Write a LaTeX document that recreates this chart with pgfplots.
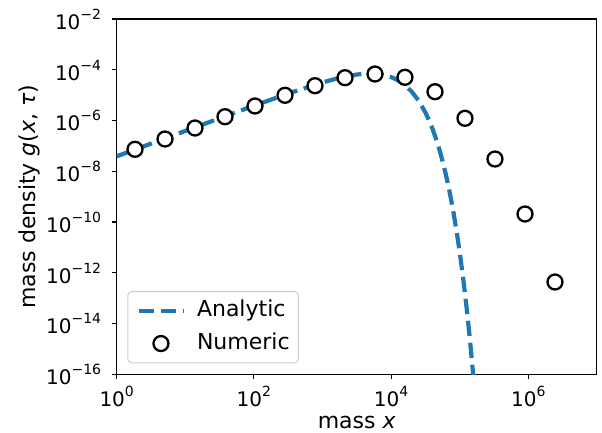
\documentclass[border=0pt]{standalone}
\usepackage{fontspec}
\setmainfont{DejaVu Sans}
\usepackage{pgfplots}
\pgfplotsset{compat=1.18}
\definecolor{mplblue}{HTML}{1F77B4}
\newcommand\fs{\fontsize{20}{24}\selectfont}
\newcommand\fl{\fontsize{22}{26}\selectfont}
\newcommand\pw[1]{10\raisebox{10pt}{\fontsize{14}{14}\selectfont #1}}
\pgfplotsset{
  lineleg/.style={legend image code/.code={\path (0pt,0pt) (47.7pt,0pt); \draw[##1] (3pt,0pt) -- (47.7pt,0pt);}},
  markleg/.style={legend image code/.code={\path (0pt,0pt) (47.7pt,0pt); \draw[##1] plot coordinates {(25.35pt,0pt)};}},
}
\begin{document}
\begin{tikzpicture}
\begin{loglogaxis}[
  scale only axis,
  width=480.2pt, height=355.3pt,
  xmin=1, xmax=1e7, ymin=1e-16, ymax=1e-2,
  axis line style={line width=1.1pt, black},
  tick align=outside,
  major tick length=4.9pt,
  tick style={line width=1.1pt, black},
  xtick pos=bottom, ytick pos=left,
  minor tick num=0,
  xtick={1,100,1e4,1e6},
  xticklabels={\pw{0},\pw{2},\pw{4},\pw{6}},
  ytick={1e-16,1e-14,1e-12,1e-10,1e-8,1e-6,1e-4,1e-2},
  yticklabels={\pw{−16},\pw{−14},\pw{−12},\pw{−10},\pw{−8},\pw{−6},\pw{−4},\pw{−2}},
  xticklabel style={font=\fs, anchor=base, inner sep=0pt, yshift=-27.4pt},
  yticklabel style={font=\fs, anchor=base east, inner sep=0pt, yshift=-10.3pt, xshift=-10.5pt},
  xlabel={mass \textit{x}},
  ylabel={mass density \textit{g}(\textit{x}, \textit{τ})},
  xlabel style={font=\fl, at={(axis description cs:0.5,0)}, anchor=base, inner sep=0pt, yshift=-53.7pt},
  ylabel style={font=\fl, at={(axis description cs:0,0.5)}, anchor=base, inner sep=0pt, yshift=81.2pt},
  legend cell align=left,
  legend style={font=\fl, at={(axis description cs:0.0221,0.031)}, anchor=south west,
    draw=black!20, line width=1pt, rounded corners=4pt, fill=white, fill opacity=0.8, text opacity=1,
    inner xsep=5.7pt, inner ysep=5.5pt, row sep=5.2pt, column sep=8.6pt,
    nodes={inner sep=3pt, text height=16.5pt, text depth=5pt}},
  clip=true,
]
\addplot[mplblue, line width=4.2pt, dash pattern=on 15.4pt off 6.7pt, lineleg]
coordinates {
(1,3.890e-8) (3.162,1.230e-7) (10,3.882e-7) (31.62,1.222e-6) (100,3.811e-6)
(316.2,1.153e-5) (1000,3.177e-5) (1778,4.831e-5) (3162,6.494e-5) (4467,7.047e-5)
(5623,7.031e-5) (7943,6.209e-5) (10000,5.164e-5) (12589,3.846e-5) (15849,2.506e-5)
(19953,1.377e-5) (25119,6.109e-6) (31623,2.065e-6) (35481,1.064e-6) (39811,4.977e-7)
(44668,2.094e-7) (50119,7.816e-8) (56234,2.547e-8) (63096,7.145e-9) (70795,1.692e-9)
(79433,3.316e-10) (89125,5.248e-11) (100000,6.546e-12) (112202,6.237e-13) (125893,4.406e-14)
(141254,2.218e-15) (158489,7.656e-17)
};
\addlegendentry{Analytic}
\addplot[only marks, mark=*, mark size=7.5pt, mark options={draw=black, fill=white, line width=2.3pt}, markleg]
coordinates {
(1.849,7.345e-8) (5.058,1.871e-7) (13.84,5.070e-7) (37.93,1.413e-6) (103.8,3.733e-6)
(283.8,9.863e-6) (778.0,2.355e-5) (2128,4.864e-5) (5821,6.808e-5) (15922,5.047e-5)
(43652,1.368e-5) (119400,1.222e-6) (326600,3.041e-8) (895400,2.075e-10) (2449000,4.335e-13)
};
\addlegendentry{Numeric}
\end{loglogaxis}
\pgfresetboundingbox
\path[use as bounding box] (-116.7pt,-58.7pt) rectangle (485.3pt,374.3pt);
\end{tikzpicture}
\end{document}
